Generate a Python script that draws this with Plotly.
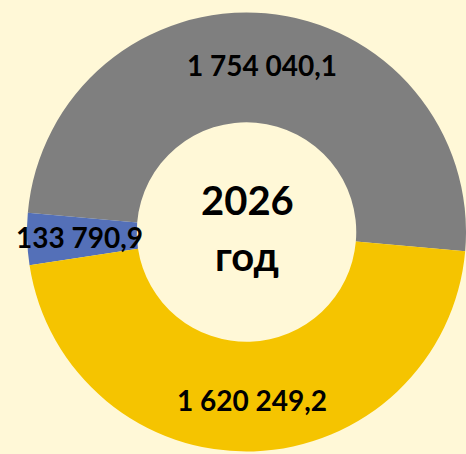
import numpy as np
import plotly.graph_objects as go

# 2026 budget split
labels = ['grey', 'blue', 'yellow']
values = [1754040.1, 133790.9, 1620249.2]
colors = ['#7f7f7f', '#5470b8', '#f5c400']
center_lines = ['2026', 'год']

W, H = 466, 454
cx, cy = 247, 232          # pie centre in px (from top-left)
R = 220                    # outer radius in px
hole = 0.5
start = 95                 # clockwise-from-top angle where the grey slice begins
bg = '#fff8d7'

total = sum(values)
# going counterclockwise, plotly puts the first slice's clockwise edge at `rotation`
rotation = start - 360 * values[0] / total

fig = go.Figure(go.Pie(
    labels=labels, values=values,
    marker=dict(colors=colors, line=dict(width=0)),
    hole=hole, sort=False, direction='counterclockwise', rotation=rotation,
    textinfo='none', hoverinfo='skip', showlegend=False,
    domain=dict(x=[(cx - R) / W, 1.0], y=[1 - (cy + R + 1) / H, 1 - (cy - R - 1) / H]),
))


def fmt(v):
    s = f'{v:,.1f}'
    return s.replace(',', ' ').replace('.', ',')


# value labels sit on each slice's bisector, in the middle of the ring
cum = np.cumsum([0] + values[:-1])
r_txt = R * (1 + hole) / 2 + 3
annotations = []
for v, c in zip(values, cum):
    a = np.radians(start - 360 * (c + v / 2) / total)
    x = cx + r_txt * np.sin(a)
    y = cy - r_txt * np.cos(a)
    annotations.append(dict(
        x=x / W, y=1 - y / H, xref='paper', yref='paper', showarrow=False,
        xanchor='center', yanchor='middle',
        text=fmt(v), font=dict(family='Lato', size=28, color='black', weight='bold'),
    ))

for txt, ypx in zip(center_lines, [200, 256]):
    annotations.append(dict(x=cx / W, y=1 - ypx / H, xref='paper', yref='paper', showarrow=False,
                            xanchor='center', yanchor='middle',
                            text=txt, font=dict(family='Lato', size=40, color='black', weight='bold')))

fig.update_layout(
    width=W, height=H, margin=dict(l=0, r=0, t=0, b=0),
    paper_bgcolor=bg, plot_bgcolor=bg,
    annotations=annotations,
)
# drop the browser's default 8px body margin so the figure fills the window
fig.write_html('out.html', config={'displayModeBar': False},
               post_script="document.body.style.margin='0'; document.body.style.background='" + bg + "';")
